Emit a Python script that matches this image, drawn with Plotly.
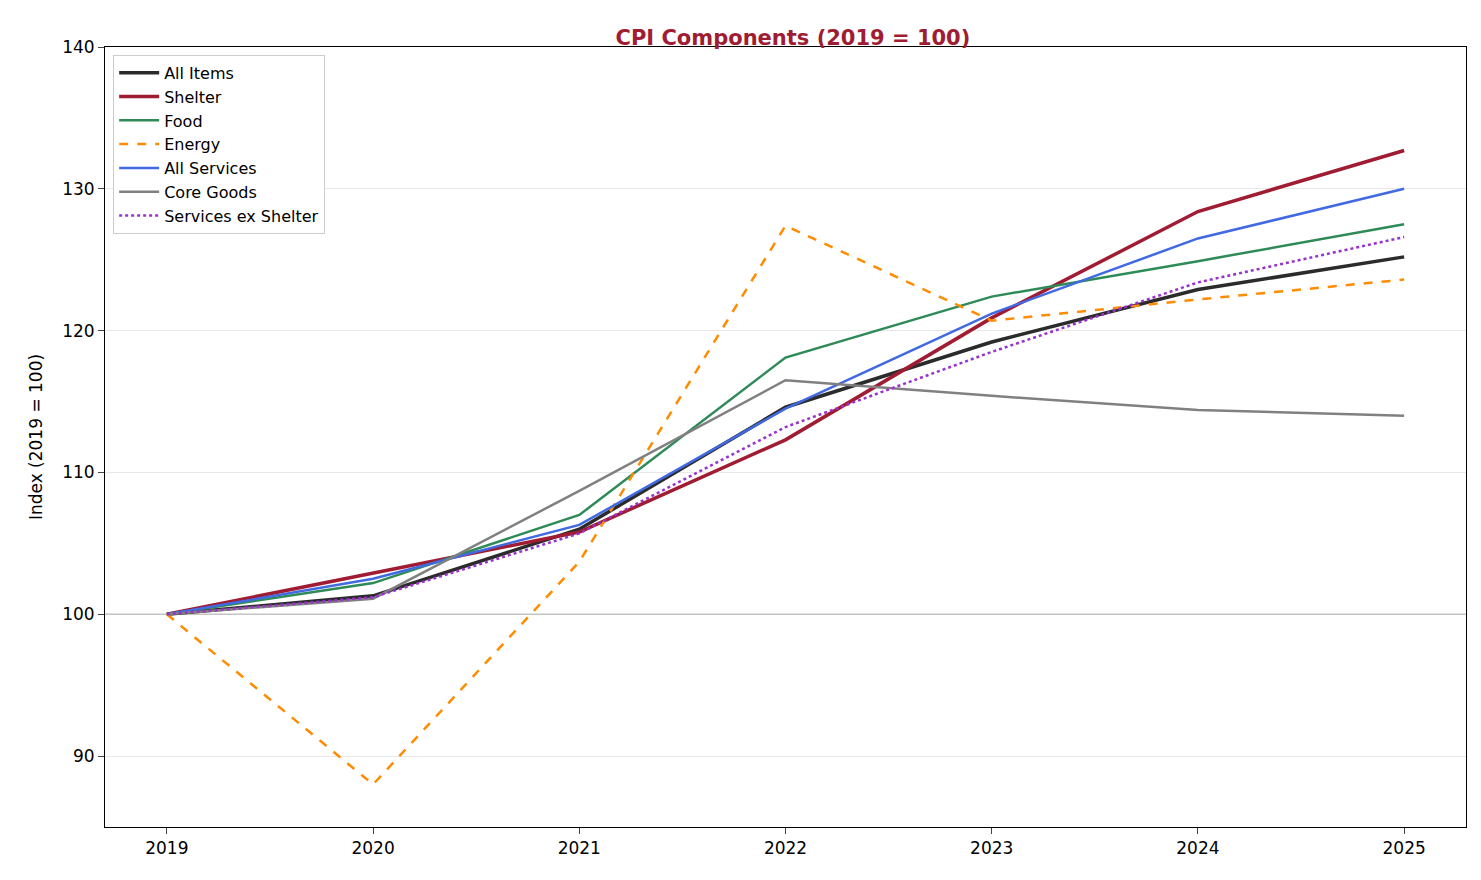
import plotly.graph_objects as go

years = [2019, 2020, 2021, 2022, 2023, 2024, 2025]
all_items = [100, 101.3, 106.0, 114.6, 119.2, 122.9, 125.2]
shelter = [100, 102.9, 105.8, 112.3, 120.9, 128.4, 132.7]
food = [100, 102.2, 107.0, 118.1, 122.4, 124.9, 127.5]
energy = [100, 88.0, 103.7, 127.4, 120.7, 122.2, 123.6]
all_services = [100, 102.5, 106.3, 114.5, 121.2, 126.5, 130.0]
core_goods = [100, 101.1, 108.7, 116.5, 115.4, 114.4, 114.0]
svc_ex_shelter = [100, 101.2, 105.7, 113.2, 118.5, 123.4, 126.6]

series = [
    ("All Items", all_items, "#2b2b2b", 3.5, "solid"),
    ("Shelter", shelter, "#a01c32", 3.5, "solid"),
    ("Food", food, "#2e8b57", 2.5, "solid"),
    ("Energy", energy, "#ff8c00", 2.5, "dash"),
    ("All Services", all_services, "#4169e1", 2.5, "solid"),
    ("Core Goods", core_goods, "#808080", 2.5, "solid"),
    ("Services ex Shelter", svc_ex_shelter, "#9932cc", 2.5, "dot"),
]

fig = go.Figure()
fig.add_trace(go.Scatter(x=[2018.7, 2025.3], y=[100, 100], mode="lines",
                         line=dict(color="#c4c4c4", width=1.5), showlegend=False,
                         hoverinfo="skip"))
for name, vals, color, w, dash in series:
    fig.add_trace(go.Scatter(x=years, y=vals, name=name, mode="lines",
                             line=dict(color=color, width=w, dash=dash)))

fig.update_layout(
    width=1481, height=880, plot_bgcolor="white", paper_bgcolor="white",
    margin=dict(l=97, r=23, t=39, b=61),
    font=dict(family="DejaVu Sans", size=17, color="black"),
    title=dict(text="<b>CPI Components (2019 = 100)</b>", x=0.53, xanchor="center", y=0.975,
               font=dict(size=21, color="#a01c32")),
    legend=dict(x=0.006, y=0.99, xanchor="left", yanchor="top", bgcolor="white",
                bordercolor="#cccccc", borderwidth=1, font=dict(size=16),
                tracegroupgap=0, itemwidth=40),
)
fig.update_xaxes(range=[2018.7, 2025.3], tickvals=years, showgrid=False,
                 showline=True, linecolor="black", mirror=True, ticks="outside",
                 ticklen=6, zeroline=False)
fig.update_yaxes(range=[85, 140], tickvals=[90, 100, 110, 120, 130, 140],
                 showgrid=True, gridcolor="#e8e8e8", showline=True, linecolor="black",
                 mirror=True, ticks="outside", ticklen=6, zeroline=False,
                 title=dict(text="Index (2019 = 100)", font=dict(size=17)))

fig.write_html("out.html")
